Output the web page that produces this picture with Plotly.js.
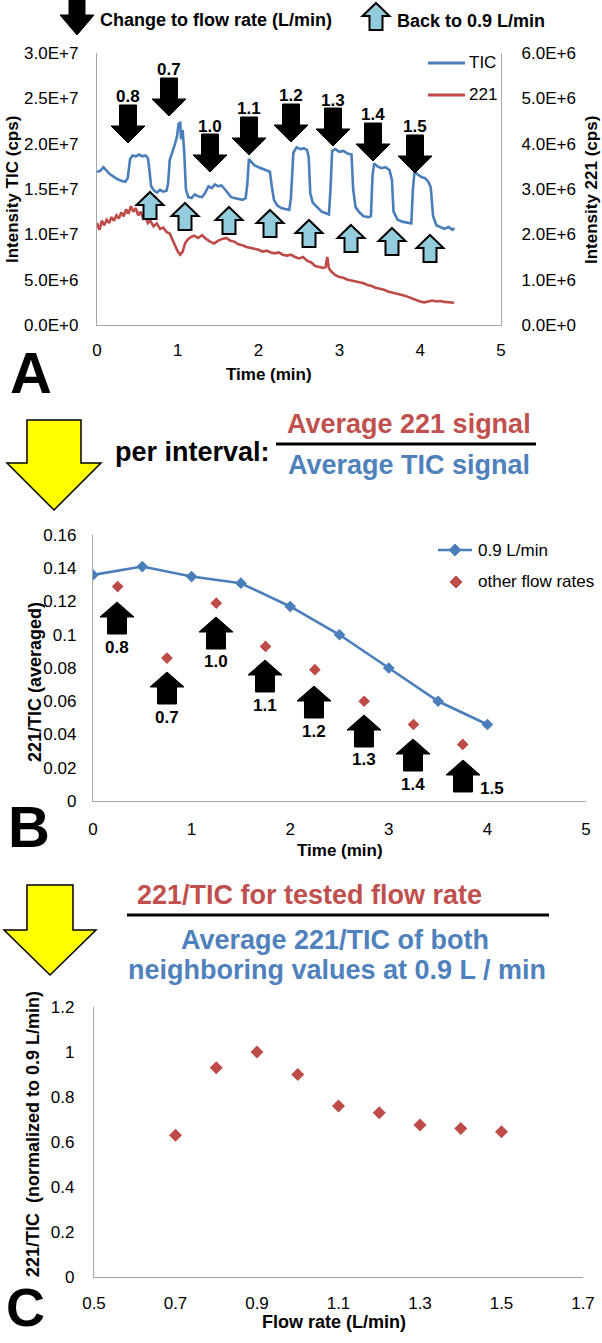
<!DOCTYPE html>
<html>
<head>
<meta charset="utf-8">
<script src="https://cdn.plot.ly/plotly-3.0.1.min.js"></script>
<style>html,body{margin:0;padding:0;background:#fff;}#chart{width:602px;height:1343px;}</style>
</head>
<body>
<div id="chart"></div>
<script>
// ---------- DATA ----------
// Panel A: TIC trace (time in min, intensity in 1E+6 cps)
const ticTime  = [0.00,0.04,0.08,0.11,0.15,0.20,0.25,0.30,0.35,0.38,0.41,0.44,0.48,0.52,0.56,0.60,0.63,0.65,0.67,0.70,0.74,0.78,0.82,0.86,0.88,0.90,0.93,0.96,0.99,1.01,1.03,1.04,1.06,1.08,1.10,1.13,1.17,1.21,1.25,1.30,1.34,1.38,1.42,1.46,1.50,1.54,1.58,1.62,1.66,1.70,1.75,1.80,1.84,1.86,1.88,1.91,1.95,2.00,2.05,2.10,2.14,2.16,2.19,2.23,2.28,2.33,2.38,2.40,2.43,2.47,2.52,2.56,2.60,2.62,2.64,2.67,2.72,2.78,2.84,2.87,2.89,2.91,2.95,3.00,3.05,3.10,3.15,3.17,3.20,3.25,3.30,3.36,3.39,3.41,3.43,3.47,3.52,3.57,3.62,3.65,3.67,3.72,3.78,3.84,3.89,3.91,3.93,3.97,4.02,4.06,4.10,4.13,4.16,4.20,4.25,4.30,4.35,4.40,4.42];
const ticValue = [16.9,17.0,17.4,17.1,16.7,16.4,16.1,15.9,15.8,16.2,18.3,18.7,18.6,18.8,18.6,18.7,18.4,17.0,15.3,14.9,14.6,14.9,14.7,14.8,15.6,18.2,18.9,19.8,20.8,22.2,22.3,20.5,21.5,19.0,15.0,14.1,14.0,14.4,14.2,14.1,14.6,15.3,15.1,15.5,15.3,15.4,15.0,14.5,14.1,14.0,13.9,13.8,14.0,15.5,18.3,18.0,17.6,17.4,17.2,17.0,16.9,15.5,13.8,13.2,12.9,12.8,12.7,14.0,19.0,19.6,19.4,19.5,19.3,18.5,14.5,13.5,13.0,12.5,12.3,12.2,15.0,19.2,19.4,19.1,19.2,18.9,18.8,15.0,13.0,12.4,12.0,11.9,12.0,16.5,17.8,17.5,17.3,17.4,17.1,16.0,12.5,11.6,11.4,11.3,11.2,15.0,16.9,16.6,16.3,16.2,15.8,15.2,12.0,11.0,10.8,10.6,10.8,10.5,10.7];
// Panel A: m/z 221 trace (time in min, intensity in 1E+6 cps)
const ionTime  = [0.00,0.03,0.06,0.09,0.12,0.15,0.18,0.21,0.24,0.27,0.30,0.33,0.36,0.39,0.42,0.45,0.48,0.51,0.54,0.57,0.60,0.63,0.66,0.70,0.74,0.78,0.82,0.86,0.90,0.93,0.96,1.00,1.03,1.06,1.09,1.12,1.16,1.20,1.25,1.30,1.35,1.40,1.45,1.50,1.55,1.60,1.65,1.70,1.75,1.80,1.85,1.90,1.95,2.00,2.05,2.10,2.15,2.20,2.25,2.30,2.35,2.40,2.45,2.50,2.55,2.60,2.65,2.70,2.75,2.80,2.83,2.85,2.87,2.90,2.95,3.00,3.05,3.10,3.15,3.20,3.25,3.30,3.35,3.40,3.45,3.50,3.55,3.60,3.65,3.70,3.75,3.80,3.85,3.90,3.95,4.00,4.05,4.10,4.15,4.20,4.25,4.30,4.35,4.40,4.42];
const ionValue = [2.25,2.10,2.30,2.20,2.32,2.25,2.38,2.30,2.42,2.35,2.48,2.40,2.55,2.45,2.62,2.50,2.58,2.42,2.50,2.35,2.40,2.25,2.30,2.18,2.24,2.12,2.15,2.05,2.02,1.90,1.75,1.62,1.55,1.62,1.80,1.88,1.94,1.97,1.92,1.98,1.90,1.84,1.80,1.86,1.90,1.92,1.86,1.84,1.78,1.76,1.72,1.70,1.68,1.66,1.62,1.64,1.60,1.58,1.60,1.55,1.53,1.55,1.50,1.47,1.50,1.42,1.38,1.30,1.28,1.26,1.28,1.50,1.25,1.18,1.10,1.06,1.04,1.00,0.98,0.96,0.94,0.92,0.88,0.86,0.82,0.80,0.78,0.74,0.72,0.70,0.67,0.65,0.62,0.58,0.55,0.52,0.50,0.52,0.54,0.52,0.53,0.51,0.50,0.48,0.49];
const ticTickVals  = [0,5,10,15,20,25,30];
const ticTickText  = ['0.0E+0','5.0E+6','1.0E+7','1.5E+7','2.0E+7','2.5E+7','3.0E+7'];
const ionTickVals  = [0,1,2,3,4,5,6];
const ionTickText  = ['0.0E+0','1.0E+6','2.0E+6','3.0E+6','4.0E+6','5.0E+6','6.0E+6'];
const flowLabels   = ['0.8','0.7','1.0','1.1','1.2','1.3','1.4','1.5'];

// Panel B: averaged 221/TIC per interval
const refTime   = [0,0.5,1,1.5,2,2.5,3,3.5,4];
const refRatio  = [0.136,0.141,0.135,0.131,0.117,0.100,0.080,0.060,0.046];
const testTime  = [0.25,0.75,1.25,1.75,2.25,2.75,3.25,3.75];
const testRatio = [0.129,0.086,0.119,0.093,0.079,0.060,0.046,0.034];
const bTickVals = [0,0.02,0.04,0.06,0.08,0.1,0.12,0.14,0.16];
const bTickText = ['0','0.02','0.04','0.06','0.08','0.1','0.12','0.14','0.16'];

// Panel C: normalized 221/TIC vs flow rate
const flowRate   = [0.7,0.8,0.9,1.0,1.1,1.2,1.3,1.4,1.5];
const normRatio  = [0.63,0.93,1.0,0.90,0.76,0.73,0.675,0.66,0.645];
const cTickValsX = [0.5,0.7,0.9,1.1,1.3,1.5,1.7];
const cTickTextX = ['0.5','0.7','0.9','1.1','1.3','1.5','1.7'];
const cTickValsY = [0,0.2,0.4,0.6,0.8,1,1.2];
const cTickTextY = ['0','0.2','0.4','0.6','0.8','1','1.2'];

// ---------- LAYOUT HELPERS ----------
const W = 602, H = 1343;
const FONT = 'Liberation Sans, Arial, sans-serif';
const BLUE = '#4A7EBB', RED = '#BE4B48', TBLUE = '#4F81BD', TRED = '#C0504D';
const AX = '#A6A6A6', LIGHT = '#93CDDD';
const fx = x => x / W, fy = y => 1 - y / H;
function P(x, y) { return fx(x).toFixed(5) + ',' + fy(y).toFixed(5); }
function poly(pts) { return 'M' + pts.map(p => P(p[0], p[1])).join('L') + 'Z'; }
function downArrow(cx, top, w, h, sw, hh) {
  return poly([[cx - sw/2, top], [cx + sw/2, top], [cx + sw/2, top + h - hh], [cx + w/2, top + h - hh],
               [cx, top + h], [cx - w/2, top + h - hh], [cx - sw/2, top + h - hh]]);
}
function upArrow(cx, top, w, h, sw, hh) {
  return poly([[cx, top], [cx + w/2, top + hh], [cx + sw/2, top + hh], [cx + sw/2, top + h],
               [cx - sw/2, top + h], [cx - sw/2, top + hh], [cx - w/2, top + hh]]);
}
function diamond(cx, cy, r) { return poly([[cx, cy - r], [cx + r, cy], [cx, cy + r], [cx - r, cy]]); }
function pathShape(path, fill, lineColor, lw) {
  return {type: 'path', xref: 'paper', yref: 'paper', path: path, fillcolor: fill,
          line: {color: lineColor, width: lw}, layer: 'above'};
}
function lineShape(x0, y0, x1, y1, color, w) {
  return {type: 'line', xref: 'paper', yref: 'paper', x0: fx(x0), y0: fy(y0), x1: fx(x1), y1: fy(y1),
          line: {color: color, width: w}};
}
function txt(text, x, y, size, color, bold, opts) {
  return Object.assign({xref: 'paper', yref: 'paper', x: fx(x), y: fy(y), text: bold ? '<b>' + text + '</b>' : text,
    showarrow: false, xanchor: 'center', yanchor: 'middle',
    font: {family: FONT, size: size, color: color}}, opts || {});
}

// ---------- TRACES ----------
const traces = [
  {x: ticTime, y: ticValue, type: 'scatter', mode: 'lines', name: 'TIC', xaxis: 'x', yaxis: 'y',
   line: {color: BLUE, width: 2.6}, showlegend: false},
  {x: ionTime, y: ionValue, type: 'scatter', mode: 'lines', name: '221', xaxis: 'x', yaxis: 'y2',
   line: {color: RED, width: 2.6}, showlegend: false},
  {x: refTime, y: refRatio, type: 'scatter', mode: 'lines+markers', name: '0.9 L/min', xaxis: 'x2', yaxis: 'y3',
   line: {color: BLUE, width: 2.6}, marker: {symbol: 'diamond', size: 9, color: BLUE}, showlegend: false},
  {x: testTime, y: testRatio, type: 'scatter', mode: 'markers', name: 'other flow rates', xaxis: 'x2', yaxis: 'y3',
   marker: {symbol: 'diamond', size: 9, color: RED}, showlegend: false},
  {x: flowRate, y: normRatio, type: 'scatter', mode: 'markers', name: 'normalized', xaxis: 'x3', yaxis: 'y4',
   marker: {symbol: 'diamond', size: 10, color: RED}, showlegend: false}
];

function axisBase(extra) {
  return Object.assign({showgrid: false, zeroline: false, showline: true, linecolor: AX, linewidth: 1.2,
    ticks: 'outside', tickcolor: 'rgba(0,0,0,0)', tickfont: {family: FONT, size: 17, color: '#000'},
    fixedrange: true, tickmode: 'array'}, extra);
}

const layout = {
  width: W, height: H, margin: {l: 0, r: 0, t: 0, b: 0}, paper_bgcolor: '#fff', plot_bgcolor: 'rgba(0,0,0,0)',
  font: {family: FONT},
  showlegend: false,
  // Panel A
  xaxis: axisBase({domain: [fx(97), fx(501)], anchor: 'y', range: [0, 5], tickvals: [0,1,2,3,4,5], ticktext: ['0','1','2','3','4','5'], ticklen: 9}),
  yaxis: axisBase({domain: [fy(325), fy(53)], anchor: 'x', range: [0, 30], tickvals: ticTickVals, ticktext: ticTickText, ticklen: 14}),
  yaxis2: axisBase({domain: [fy(325), fy(53)], anchor: 'x', overlaying: 'y', side: 'right', range: [0, 6], tickvals: ionTickVals, ticktext: ionTickText, ticklen: 16}),
  // Panel B
  xaxis2: axisBase({domain: [fx(93), fx(586)], anchor: 'y3', range: [0, 5], tickvals: [0,1,2,3,4,5], ticktext: ['0','1','2','3','4','5'], ticklen: 12}),
  yaxis3: axisBase({domain: [fy(801), fy(535)], anchor: 'x2', range: [0, 0.16], tickvals: bTickVals, ticktext: bTickText, ticklen: 12}),
  // Panel C
  xaxis3: axisBase({domain: [fx(94), fx(583)], anchor: 'y4', range: [0.5, 1.7], tickvals: cTickValsX, ticktext: cTickTextX, ticklen: 10}),
  yaxis4: axisBase({domain: [fy(1277), fy(1007)], anchor: 'x3', range: [0, 1.2], tickvals: cTickValsY, ticktext: cTickTextY, ticklen: 15}),
  shapes: [],
  annotations: []
};

const S = layout.shapes, A = layout.annotations;

// ---- Header of panel A ----
S.push(pathShape(downArrow(77, -4, 34, 39, 16, 20), '#000', '#000', 1));
A.push(txt('Change to flow rate (L/min)', 98, 20, 18, '#000', true, {xanchor: 'left'}));
S.push(pathShape(upArrow(376, 3, 27, 27, 13, 13), LIGHT, '#000', 2));
A.push(txt('Back to 0.9 L/min', 395, 21, 18, '#000', true, {xanchor: 'left'}));

// ---- Panel A arrows ----
const aDownX   = [128, 169, 210, 249, 291, 333, 373, 415];
const aDownTop = [105, 78, 134, 117, 104, 108, 123, 135];
flowLabels.forEach((lab, i) => {
  S.push(pathShape(downArrow(aDownX[i], aDownTop[i], 34, 38, 17, 17), '#000', '#000', 1));
  A.push(txt(lab, aDownX[i], aDownTop[i] - 8, 17, '#000', true));
});
const aUpX   = [150, 185, 229, 270, 309, 351, 392, 430];
const aUpTop = [192, 203, 207, 210, 220, 225, 228, 235];
aUpX.forEach((x, i) => S.push(pathShape(upArrow(x, aUpTop[i], 27, 27, 13, 13), LIGHT, '#000', 2)));

// ---- Panel A legend ----
S.push(lineShape(428, 63, 465, 63, BLUE, 3));
A.push(txt('TIC', 467, 63, 17, '#000', false, {xanchor: 'left'}));
S.push(lineShape(428, 95, 465, 95, RED, 3));
A.push(txt('221', 467, 95, 17, '#000', false, {xanchor: 'left'}));

// ---- Panel A titles ----
A.push(txt('Time (min)', 269, 375, 17, '#000', true));
A.push(txt('Intensity TIC (cps)', 12, 190, 17, '#000', true, {textangle: -90}));
A.push(txt('Intensity 221 (cps)', 591, 190, 17, '#000', true, {textangle: -90}));
A.push(txt('A', 31, 372, 58, '#000', true));

// ---- Panel B header ----
S.push(pathShape(downArrow(54, 420, 94, 90, 54, 47), '#FFFF00', '#000', 1.5));
A.push(txt('per interval:', 192, 452, 27, '#000', true));
S.push(lineShape(276, 444, 536, 444, '#000', 3));
A.push(txt('Average 221 signal', 409, 424, 27, TRED, true));
A.push(txt('Average TIC signal', 409, 465, 27, TBLUE, true));

// ---- Panel B arrows ----
const bUpX   = [117, 167, 216, 265, 314, 364, 413, 463];
const bUpTop = [602, 672, 617, 660, 686, 715, 739, 760];
flowLabels.forEach((lab, i) => {
  S.push(pathShape(upArrow(bUpX[i], bUpTop[i], 34, 32, 19, 15), '#000', '#000', 1));
  if (i < 7) A.push(txt(lab, bUpX[i], bUpTop[i] + 45, 17, '#000', true));
  else A.push(txt(lab, bUpX[i] + 29, bUpTop[i] + 28, 17, '#000', true));
});

// ---- Panel B legend ----
S.push(lineShape(438, 550, 472, 550, BLUE, 2.6));
S.push(pathShape(diamond(455, 550, 6), BLUE, BLUE, 1));
A.push(txt('0.9 L/min', 476, 550, 17, '#000', false, {xanchor: 'left'}));
S.push(pathShape(diamond(456, 582, 6), RED, RED, 1));
A.push(txt('other flow rates', 476, 582, 17, '#000', false, {xanchor: 'left'}));

// ---- Panel B titles ----
A.push(txt('Time (min)', 340, 850, 17, '#000', true));
A.push(txt('221/TIC (averaged)', 35, 682, 18, '#000', true, {textangle: -90}));
A.push(txt('B', 29, 826, 58, '#000', true));

// ---- Panel C header ----
S.push(pathShape(downArrow(50, 885, 92, 90, 46, 45), '#FFFF00', '#000', 1.5));
A.push(txt('221/TIC for tested flow rate', 309, 895, 27, TRED, true));
S.push(lineShape(127, 915, 549, 915, '#000', 3));
A.push(txt('Average 221/TIC of both', 335, 940, 27, TBLUE, true));
A.push(txt('neighboring values at 0.9 L / min', 337, 970, 27, TBLUE, true));

// ---- Panel C titles ----
A.push(txt('Flow rate (L/min)', 334, 1322, 18, '#000', true));
A.push(txt('221/TIC  (normalized to 0.9 L/min)', 33, 1134, 18, '#000', true, {textangle: -90}));
A.push(txt('C', 25, 1307, 54, '#000', true));

Plotly.newPlot('chart', traces, layout, {displayModeBar: false, staticPlot: true});
</script>
</body>
</html>
